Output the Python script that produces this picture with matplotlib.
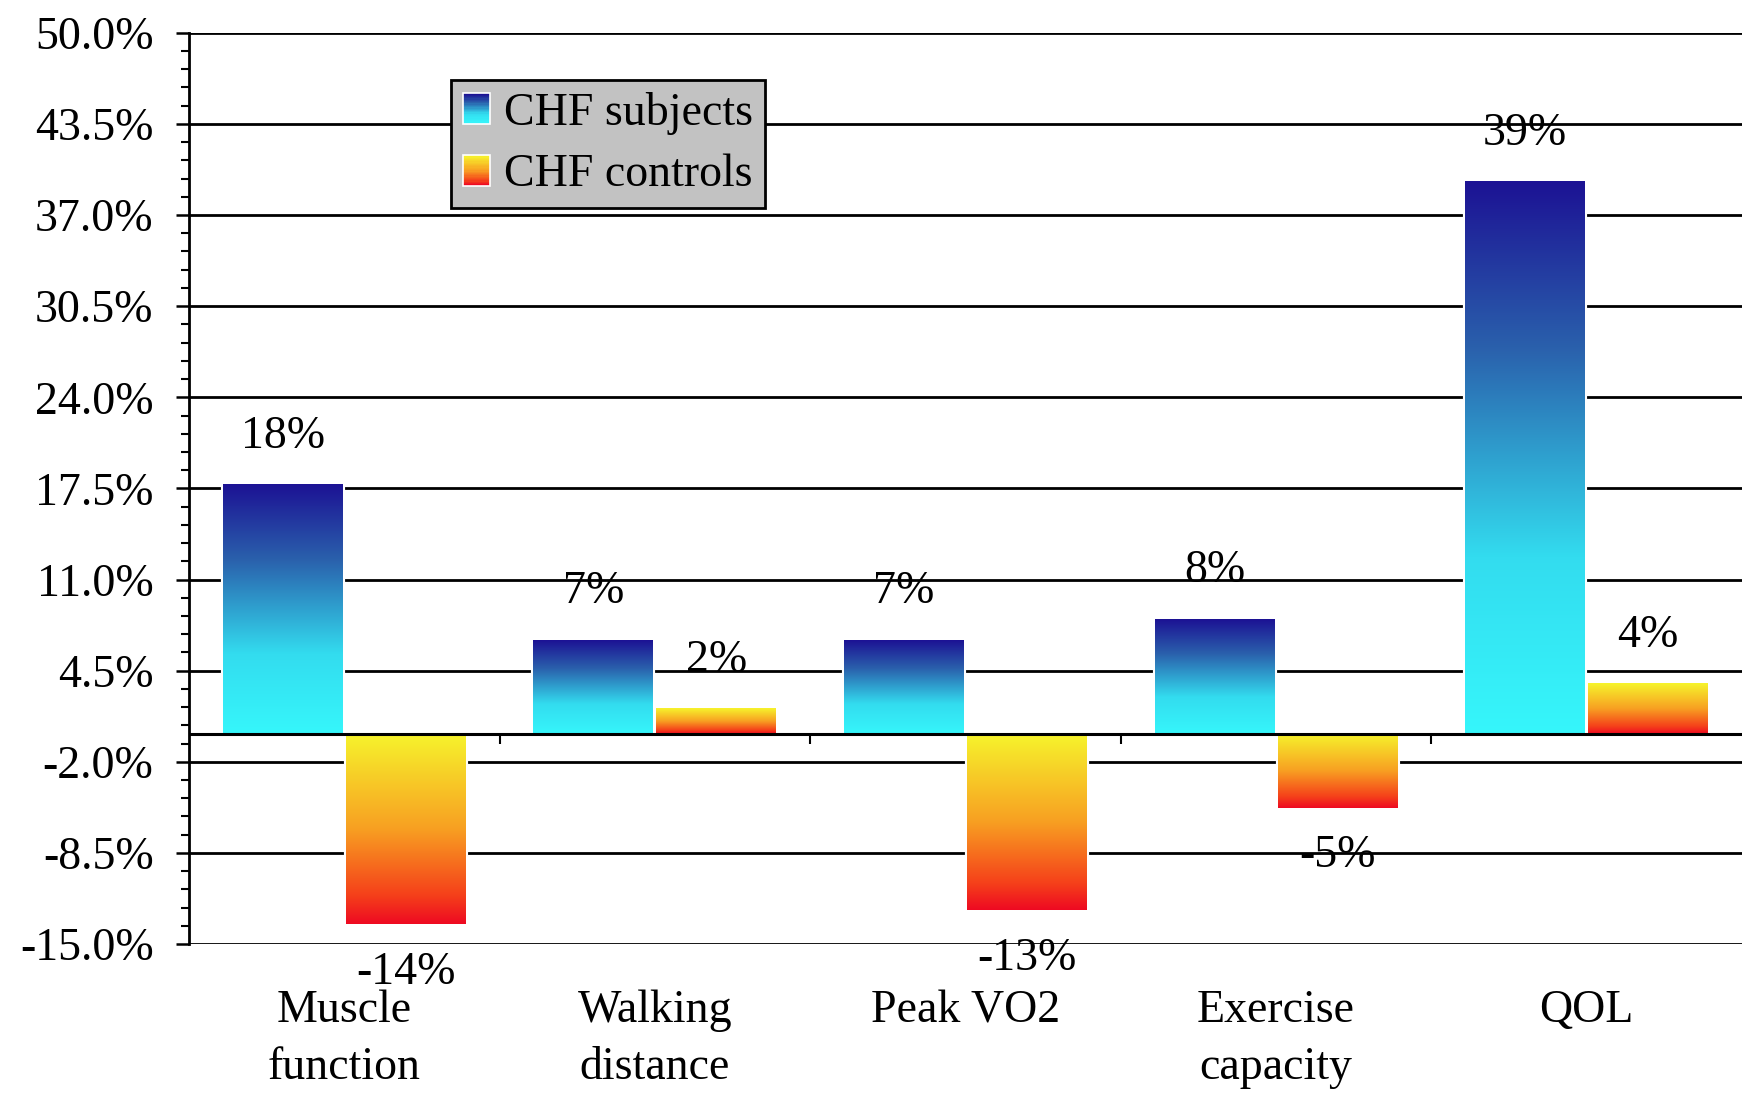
import numpy as np
import matplotlib.pyplot as plt
from matplotlib.colors import LinearSegmentedColormap
from matplotlib.legend_handler import HandlerBase
from matplotlib.patches import Rectangle
from matplotlib.ticker import AutoMinorLocator

# data (percent change)
categories = ['Muscle\nfunction', 'Walking\ndistance', 'Peak VO2', 'Exercise\ncapacity', 'QOL']
subjects = [17.8, 6.7, 6.7, 8.2, 39.4]
controls = [-13.6, 1.8, -12.6, -5.3, 3.6]
series_names = ['CHF subjects', 'CHF controls']
yticks = np.arange(-15.0, 50.01, 6.5)

plt.rcParams['font.family'] = ['Liberation Serif', 'DejaVu Serif']
FS = 33

# gradients, from top of bar (0) to bottom (1)
blue_cmap = LinearSegmentedColormap.from_list(
    'subj', [(0, '#1c1294'), (0.3, '#2a60ac'), (0.68, '#33dcef'), (1, '#36f6fb')])
warm_cmap = LinearSegmentedColormap.from_list(
    'ctrl', [(0, '#f6f42c'), (0.5, '#f8a022'), (0.85, '#f5401a'), (1, '#ee0a22')])


class GradientHandler(HandlerBase):
    '''Legend key drawn as a small vertical gradient.'''

    def __init__(self, cmap, n=24):
        super().__init__()
        self.cmap = cmap
        self.n = n

    def create_artists(self, legend, orig_handle, xdescent, ydescent,
                       width, height, fontsize, trans):
        arts = []
        for i in range(self.n):
            y = -ydescent + height * (1 - (i + 1) / self.n)
            r = Rectangle((-xdescent, y), width, height / self.n,
                          facecolor=self.cmap(i / (self.n - 1)),
                          edgecolor='none', transform=trans)
            arts.append(r)
        arts.append(Rectangle((-xdescent, -ydescent), width, height,
                              facecolor='none', edgecolor='white',
                              linewidth=1.2, transform=trans))
        return arts


fig = plt.figure(figsize=(17.42, 10.93), dpi=100)
ax = fig.add_axes([0.1085, 0.1363, 0.8915, 0.8337])

x = np.arange(len(categories))
w = 0.386
off = 0.198
grad = np.linspace(0, 1, 256).reshape(-1, 1)

for vals, dx, cmap in [(subjects, -off, blue_cmap), (controls, off, warm_cmap)]:
    bars = ax.bar(x + dx, vals, w, facecolor='white', edgecolor='white',
                  linewidth=3, zorder=2)
    for b, v in zip(bars, vals):
        x0, y0 = b.get_xy()
        bw, bh = b.get_width(), b.get_height()
        ax.imshow(grad, cmap=cmap, aspect='auto', origin='upper', zorder=3,
                  extent=[x0, x0 + bw, min(y0, y0 + bh), max(y0, y0 + bh)])
        ax.annotate(f'{v:.0f}%', (x0 + bw / 2, v),
                    xytext=(0, 34.5 if v > 0 else -34.5),
                    textcoords='offset points', ha='center', va='center',
                    fontsize=FS, annotation_clip=False, zorder=6)

ax.axhline(0, color='black', lw=2.2, zorder=4)
ax.vlines(x[:-1] + 0.5, -0.75, 0, color='black', lw=1.5, zorder=4)

ax.set_xlim(-0.5, len(categories) - 0.5)
ax.set_ylim(-15, 50)
ax.set_yticks(yticks)
ax.set_yticklabels([f'{t:.1f}%' for t in yticks], fontsize=FS)
ax.yaxis.set_minor_locator(AutoMinorLocator(5))
ax.tick_params(axis='y', which='major', length=9.5, width=1.8, pad=16)
ax.tick_params(axis='y', which='minor', length=5.5, width=1.5)
ax.set_xticks(x)
ax.set_xticklabels(categories, fontsize=FS, linespacing=1.45)
ax.tick_params(axis='x', length=0, pad=33)

ax.yaxis.grid(True, which='major', color='black', lw=2)
ax.set_axisbelow(True)
for s in ['top', 'right', 'bottom']:
    ax.spines[s].set_visible(False)
ax.spines['left'].set_linewidth(2)

proxies = [Rectangle((0, 0), 1, 1), Rectangle((0, 0), 1, 1)]
leg = ax.legend(proxies, series_names, loc='upper left',
                bbox_to_anchor=(0.169, 0.948), borderaxespad=0,
                fontsize=FS, facecolor='#c2c2c2', edgecolor='black',
                framealpha=1, fancybox=False, handlelength=0.6,
                handleheight=0.65, handletextpad=0.3, borderpad=0.25,
                labelspacing=0.42,
                handler_map={proxies[0]: GradientHandler(blue_cmap),
                             proxies[1]: GradientHandler(warm_cmap)})
leg.get_frame().set_linewidth(2)

fig.savefig('out.png', dpi=100)
